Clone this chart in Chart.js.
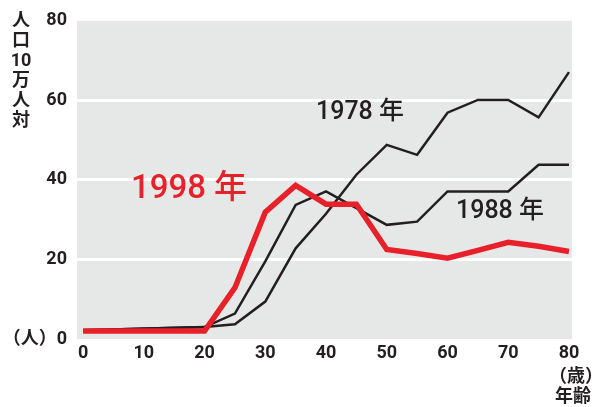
<!DOCTYPE html>
<html>
<head>
<meta charset="utf-8">
<script src="https://cdn.jsdelivr.net/npm/chart.js@4.4.1/dist/chart.umd.min.js"></script>
<style>
  html, body { margin: 0; padding: 0; background: #fff; }
  #wrap { width: 595px; height: 407px; }
</style>
</head>
<body>
<div id="wrap"><canvas id="c" width="595" height="407"></canvas></div>
<script>
// age groups and rates per 100,000
const AGES = [0, 20, 25, 30, 35, 40, 45, 50, 55, 60, 65, 70, 75, 80];
const Y1998 = [2, 2, 12.9, 31.9, 38.6, 33.9, 33.9, 22.5, 21.5, 20.3, 22.3, 24.3, 23.3, 22];
const Y1988 = [2.2, 3, 6.4, 19.5, 33.7, 37.1, 32.9, 28.7, 29.5, 37.1, 37.1, 37.1, 43.8, 43.8];
const Y1978 = [2.2, 3, 3.7, 9.4, 22.8, 31.5, 41.3, 48.8, 46.3, 56.9, 60.1, 60.1, 55.7, 67.1];

const X_TICKS = [0, 10, 20, 30, 40, 50, 60, 70, 80];
const Y_TICKS = [0, 20, 40, 60, 80];

const INK = "#231f20";
const RED = "#e8202a";
const FONT = "Roboto, 'Noto Sans CJK JP', sans-serif";

const toXY = (ys) => AGES.map((a, i) => ({ x: a, y: ys[i] }));

/* gray plot background + free text */
const decor = {
  id: "decor",
  beforeDraw(chart) {
    const { ctx, chartArea: a } = chart;
    ctx.save();
    ctx.fillStyle = "#e6e7e7";
    ctx.fillRect(a.left, a.top, a.right - a.left, a.bottom - a.top);
    ctx.restore();
  },
  afterDraw(chart) {
    const { ctx } = chart;
    ctx.save();
    ctx.textAlign = "center";
    ctx.textBaseline = "middle";

    // vertical y title
    ctx.fillStyle = INK;
    ctx.font = "bold 18px " + FONT;
    ["人", "口", "10", "万", "人", "対"].forEach((t, i) => ctx.fillText(t, 21, 21 + i * 20));

    // x unit
    ctx.fillText("（歳）", 576, 377);
    ctx.fillText("年齢", 573, 397);

    // series labels
    ctx.font = "500 25px " + FONT;
    ctx.fillText("1978 年", 360, 113);
    ctx.fillText("1988 年", 500, 212);
    ctx.fillStyle = RED;
    ctx.font = "500 33px " + FONT;
    ctx.fillText("1998 年", 189, 190);
    ctx.restore();
  }
};

new Chart(document.getElementById("c"), {
  type: "line",
  data: {
    datasets: [
      { label: "1998", data: toXY(Y1998), borderColor: RED, borderWidth: 5.5 },
      { label: "1988", data: toXY(Y1988), borderColor: INK, borderWidth: 2.5 },
      { label: "1978", data: toXY(Y1978), borderColor: INK, borderWidth: 2.5 },
    ],
  },
  options: {
    responsive: false,
    animation: false,
    devicePixelRatio: 1,
    layout: { padding: { top: 16, right: 23, left: 0, bottom: 0 } },
    elements: {
      point: { radius: 0 },
      line: { tension: 0, fill: false, borderJoinStyle: "miter", borderCapStyle: "butt" },
    },
    plugins: { legend: { display: false }, tooltip: { enabled: false } },
    scales: {
      x: {
        type: "linear",
        min: -1,
        max: 80.5,
        afterBuildTicks: (s) => { s.ticks = X_TICKS.map(v => ({ value: v })); },
        afterFit: (s) => { s.height = 68; },
        grid: { display: false, drawTicks: false },
        border: { display: false },
        ticks: { color: INK, padding: 4, font: { family: FONT, size: 18, weight: "bold" }, maxRotation: 0 },
      },
      y: {
        min: 0,
        max: 80,
        afterBuildTicks: (s) => { s.ticks = Y_TICKS.map(v => ({ value: v })); },
        afterFit: (s) => { s.width = 77; },
        grid: {
          drawTicks: false,
          lineWidth: 3,
          color: (c) => (c.tick && (c.tick.value === 0 || c.tick.value === 80)) ? "rgba(0,0,0,0)" : "#ffffff",
        },
        border: { display: false },
        ticks: {
          color: INK,
          padding: 10,
          font: { family: FONT, size: 18, weight: "bold" },
          callback: (v) => v === 0 ? "（人）0" : String(v),
        },
      },
    },
  },
  plugins: [decor],
});
</script>
</body>
</html>
